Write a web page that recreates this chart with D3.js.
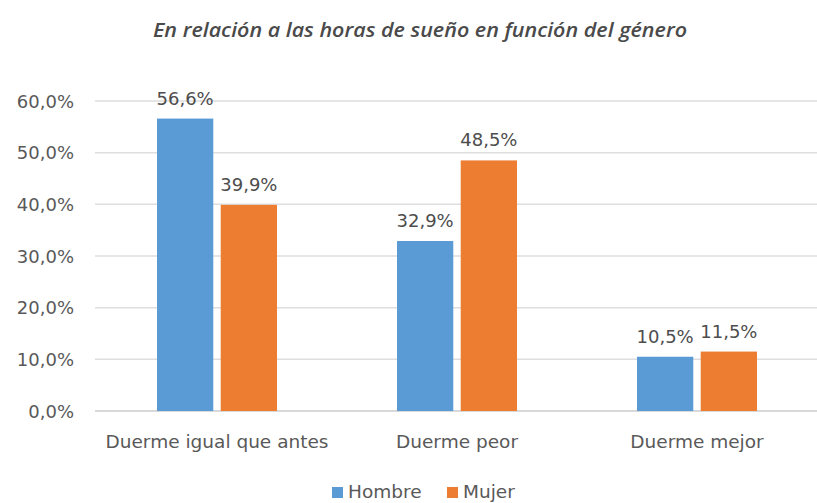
<!DOCTYPE html>
<html><head><meta charset="utf-8">
<script src="https://cdn.jsdelivr.net/npm/d3@7"></script>
<style>body{margin:0;background:#fff}svg{display:block}</style>
</head><body>
<script>
const title = "En relación a las horas de sueño en función del género";
const categories = ["Duerme igual que antes", "Duerme peor", "Duerme mejor"];
const seriesNames = ["Hombre", "Mujer"];
const hombre = [56.6, 32.9, 10.5];
const mujer = [39.9, 48.5, 11.5];
const yTicks = [0, 10, 20, 30, 40, 50, 60];
const colors = ["#5B9BD5", "#ED7D31"];

const W = 817, H = 503;
const svg = d3.select("body").append("svg").attr("width", W).attr("height", H);
const font = "'DejaVu Sans', sans-serif";

const x = d3.scaleBand().domain(categories).range([97, 817]);
const x1 = d3.scaleBand().domain(seriesNames).range([60, 180]).paddingInner(0.117);
const y = d3.scaleLinear().domain([0, 60]).range([411, 101]);

svg.append("text").attr("x", 420).attr("y", 37).attr("text-anchor", "middle")
  .attr("font-family", "'Open Sans', sans-serif").attr("font-style", "italic").attr("font-weight", 600)
  .attr("font-size", 20).attr("fill", "#4a4a4a")
  .attr("textLength", 534).attr("lengthAdjust", "spacingAndGlyphs").text(title);

// gridlines
svg.append("g").selectAll("line").data(yTicks).join("line")
  .attr("x1", 95).attr("x2", 817).attr("y1", d => y(d)).attr("y2", d => y(d))
  .attr("stroke", d => d === 0 ? "#cccccc" : "#dedede").attr("stroke-width", 1.5);

// y axis labels
const fmt = d => d.toFixed(1).replace(".", ",") + "%";
svg.append("g").selectAll("text").data(yTicks).join("text")
  .attr("x", 74).attr("y", d => y(d) + 6.5).attr("text-anchor", "end")
  .attr("font-family", font).attr("font-size", 18).attr("fill", "#595959").text(fmt);

const data = categories.map((c, i) => ({c, vals: [hombre[i], mujer[i]]}));
const g = svg.append("g").selectAll("g").data(data).join("g")
  .attr("transform", d => `translate(${x(d.c)},0)`);
g.selectAll("rect").data(d => d.vals.map((v, j) => ({v, s: seriesNames[j], j}))).join("rect")
  .attr("x", d => x1(d.s)).attr("width", x1.bandwidth())
  .attr("y", d => y(d.v)).attr("height", d => y(0) - y(d.v))
  .attr("fill", d => colors[d.j]);
g.selectAll("text.lab").data(d => d.vals.map((v, j) => ({v, s: seriesNames[j], j}))).join("text")
  .attr("class", "lab")
  .attr("x", d => x1(d.s) + x1.bandwidth() / 2).attr("y", d => y(d.v) - 14)
  .attr("text-anchor", "middle").attr("font-family", font).attr("font-size", 18)
  .attr("fill", "#4d4d4d").text(d => d.v.toFixed(1).replace(".", ",") + "%");

// category labels
svg.append("g").selectAll("text").data(categories).join("text")
  .attr("x", d => x(d) + x.bandwidth() / 2).attr("y", 448).attr("text-anchor", "middle")
  .attr("font-family", font).attr("font-size", 18.5).attr("fill", "#595959").text(d => d);

// legend
const lg = svg.append("g");
const legX = [332, 447];
seriesNames.forEach((s, i) => {
  lg.append("rect").attr("x", legX[i]).attr("y", 487).attr("width", 11).attr("height", 11).attr("fill", colors[i]);
  lg.append("text").attr("x", legX[i] + 16).attr("y", 498).attr("font-family", font)
    .attr("font-size", 18.5).attr("fill", "#595959").text(s);
});
</script>
</body></html>
